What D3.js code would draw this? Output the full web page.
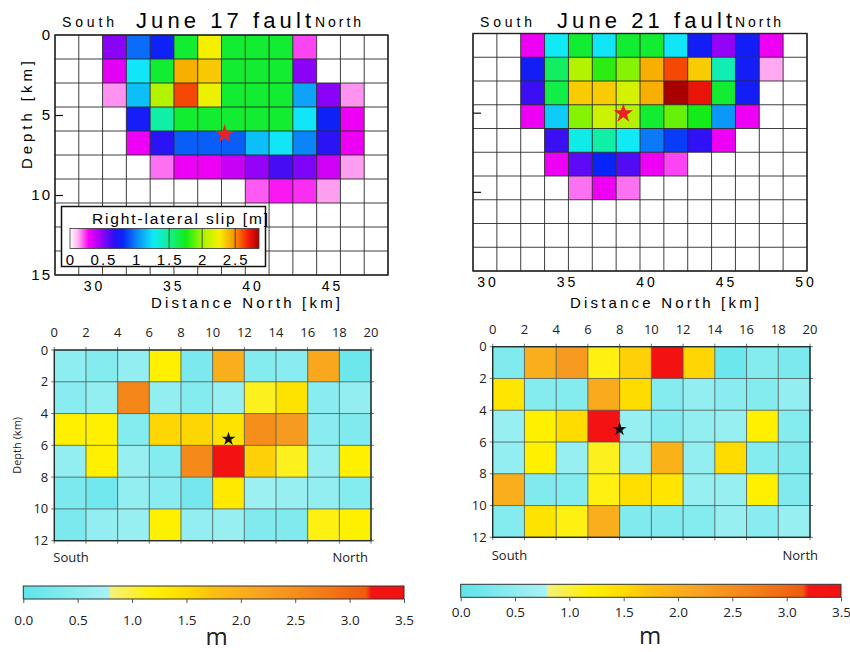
<!DOCTYPE html>
<html>
<head>
<meta charset="utf-8">
<script src="https://cdn.jsdelivr.net/npm/d3@7"></script>
<style>
	body { margin: 0; background: #fff; }
	svg { display: block; }
</style>
</head>
<body>
<svg width="850" height="652"></svg>
<script>

// ---- data -------------------------------------------------------------

// June 17 slip model, rows = 1.5 km depth slices, cols = 1.5 km along strike
var june17Slip = [
	[0, 0, 0.50, 0.95, 0.78, 1.70, 2.25, 1.70, 1.70, 1.70, 0.22, 0, 0, 0],
	[0, 0, 0.32, 1.25, 1.70, 2.42, 2.36, 1.70, 1.70, 1.70, 0.50, 0, 0, 0],
	[0, 0, 0.15, 1.15, 2.05, 2.62, 2.22, 1.70, 1.70, 1.70, 1.08, 0.50, 0.15, 0],
	[0, 0, 0, 0.75, 1.45, 1.70, 1.70, 1.70, 1.70, 1.70, 1.25, 0.78, 0.30, 0],
	[0, 0, 0, 0.30, 0.68, 0.92, 0.92, 0.92, 1.15, 1.25, 1.00, 0.68, 0.30, 0],
	[0, 0, 0, 0, 0.18, 0.30, 0.30, 0.38, 0.48, 0.62, 0.52, 0.36, 0.14, 0],
	[0, 0, 0, 0, 0, 0, 0, 0, 0.20, 0.26, 0.24, 0.14, 0, 0],
	[0, 0, 0, 0, 0, 0, 0, 0, 0, 0, 0, 0, 0, 0],
	[0, 0, 0, 0, 0, 0, 0, 0, 0, 0, 0, 0, 0, 0],
	[0, 0, 0, 0, 0, 0, 0, 0, 0, 0, 0, 0, 0, 0]
];

// June 21 slip model
var june21Slip = [
	[0, 0, 0.30, 1.27, 1.70, 1.25, 1.70, 1.70, 1.25, 0.76, 0.48, 0.76, 0.30, 0],
	[0, 0, 0.76, 1.60, 2.05, 1.80, 1.95, 2.42, 2.62, 2.35, 1.42, 0.76, 0.13, 0],
	[0, 0, 0.64, 1.65, 2.35, 2.35, 2.15, 2.42, 2.87, 2.72, 1.70, 0.76, 0, 0],
	[0, 0, 0.30, 1.18, 1.95, 2.12, 2.05, 1.70, 1.90, 1.75, 1.05, 0.30, 0, 0],
	[0, 0, 0, 0.64, 1.30, 1.45, 1.27, 0.98, 0.85, 0.66, 0.30, 0, 0, 0],
	[0, 0, 0, 0.30, 0.58, 0.80, 0.60, 0.30, 0.22, 0, 0, 0, 0, 0],
	[0, 0, 0, 0, 0.18, 0.30, 0.18, 0, 0, 0, 0, 0, 0, 0],
	[0, 0, 0, 0, 0, 0, 0, 0, 0, 0, 0, 0, 0, 0],
	[0, 0, 0, 0, 0, 0, 0, 0, 0, 0, 0, 0, 0, 0],
	[0, 0, 0, 0, 0, 0, 0, 0, 0, 0, 0, 0, 0, 0]
];

// coarse 2 km x 2 km models (bottom row)
var coarse17Slip = [
	[0.50, 0.40, 0.55, 1.20, 0.30, 2.00, 0.40, 0.45, 2.10, 0.15],
	[0.45, 0.55, 2.60, 0.55, 0.40, 0.60, 1.10, 1.40, 0.45, 0.55],
	[1.20, 1.20, 0.40, 1.55, 1.55, 1.40, 2.50, 2.30, 0.45, 0.35],
	[0.55, 1.20, 0.60, 0.40, 2.55, 3.40, 1.60, 1.10, 0.60, 1.20],
	[0.30, 0.20, 0.55, 0.45, 0.25, 1.30, 0.65, 0.60, 0.55, 0.40],
	[0.30, 0.55, 0.60, 1.20, 0.55, 0.60, 0.35, 0.35, 1.15, 1.20]
];

var coarse21Slip = [
	[0.35, 2.00, 2.30, 1.15, 1.60, 3.40, 1.55, 0.15, 0.40, 0.30],
	[1.35, 0.40, 0.40, 2.05, 1.50, 0.40, 0.55, 0.45, 0.40, 0.55],
	[0.60, 1.20, 1.50, 3.35, 0.60, 0.40, 0.55, 0.60, 1.20, 0.40],
	[0.55, 1.20, 0.60, 1.10, 0.60, 1.95, 0.55, 1.50, 0.40, 0.35],
	[2.00, 0.35, 0.40, 1.15, 1.45, 1.35, 0.60, 0.60, 1.20, 0.35],
	[0.40, 1.40, 1.15, 2.00, 0.35, 0.35, 0.40, 0.60, 0.45, 0.60]
];

// hypocentres [km along strike, depth km]
var hypo17 = [38.3, 6.2];
var hypo21 = [38.6, 5.05];
var coarseHypo17 = [11.0, 5.6];
var coarseHypo21 = [8.0, 5.2];

// tick labels
var depthTicks = [0, 5, 10, 15];
var june17DistTicks = [30, 35, 40, 45];
var june21DistTicks = [30, 35, 40, 45, 50];
var rainbowTicks = [0, 0.5, 1, 1.5, 2, 2.5];
var rainbowLines = [1.5, 2, 2.5];
var coarseKmTicks = [0, 2, 4, 6, 8, 10, 12, 14, 16, 18, 20];
var coarseDepthTicks = [0, 2, 4, 6, 8, 10, 12];
var meterTicks = [0, 0.5, 1, 1.5, 2, 2.5, 3, 3.5];

// ---- settings ---------------------------------------------------------

var CONF = {
	topCellKm: 1.5,
	topDepthMax: 15,
	coarseCellKm: 2,
	topFont: '"Liberation Sans", Arial, sans-serif',
	lowFont: '"Open Sans", "Noto Sans", sans-serif'
};

// rainbow palette of the top panels
var rainbow = d3.scaleLinear()
	.domain([0, 0.12, 0.28, 0.46, 0.66, 0.8, 1.0, 1.26, 1.5, 1.76, 2.0, 2.26, 2.5, 2.7, 2.87])
	.range(['#ffffff', '#ffb4f0', '#f800f4', '#a000f8', '#3010f4', '#0824f8', '#0a84f8', '#10eaf8',
		'#10f090', '#14ec14', '#a4f400', '#f8f000', '#f89000', '#f41808', '#a80000'])
	.clamp(true);

// cyan / yellow / red palette of the bottom panels
var meterColor = d3.scaleLinear()
	.domain([0, 0.79, 0.8, 1.2, 1.5, 1.75, 2.2, 2.7, 3.15, 3.2, 3.5])
	.range(['#5ee4ea', '#aaf2f4', '#f4f07c', '#fff000', '#ffdc00', '#fbbe12', '#f8a222',
		'#f48018', '#f05a10', '#f41414', '#f41010'])
	.clamp(true);

var svg = d3.select('svg');
var defs = svg.append('defs');

function toCells(rows) {
	var out = [];
	rows.forEach(function(r, j) {
		r.forEach(function(v, i) {
			out.push({row: j, col: i, v: v});
		});
	});
	return out;
}

function addGradient(id, scale, domain) {
	var n = 350;
	defs.append('linearGradient')
		.attr('id', id)
		.attr('x1', '0%').attr('x2', '100%')
		.attr('y1', '0%').attr('y2', '0%')
		.selectAll('stop')
		.data(d3.range(n + 1))
		.enter()
		.append('stop')
			.attr('offset', function(d) { return (100 * d / n) + '%'; })
			.attr('stop-color', function(d) {
				return scale(domain[0] + (domain[1] - domain[0]) * d / n);
			});
}

// spaced-out text with a fixed length
function spacedText(g, txt, x, y, size, len, anchor) {
	return g.append('text')
		.attr('x', x).attr('y', y)
		.attr('text-anchor', anchor || 'start')
		.attr('textLength', len)
		.attr('lengthAdjust', 'spacing')
		.style('font-family', CONF.topFont)
		.style('font-size', size + 'px')
		.text(txt);
}

// ---- top panels (fine rainbow models) ---------------------------------

function drawSlipPanel(p) {
	var x = d3.scaleLinear().domain(p.xDomain).range(p.xRange);
	var y = d3.scaleLinear().domain([0, CONF.topDepthMax]).range(p.yRange);
	var dk = CONF.topCellKm;
	var x0 = p.xDomain[0];
	var nRows = p.slip.length, nCols = p.slip[0].length;
	var g = svg.append('g').attr('class', 'slip-panel');

	g.selectAll('rect.cell')
		.data(toCells(p.slip))
		.enter()
		.append('rect')
			.attr('class', 'cell')
			.attr('x', function(d) { return x(x0 + d.col * dk); })
			.attr('y', function(d) { return y(d.row * dk); })
			.attr('width', function(d) { return x(x0 + (d.col + 1) * dk) - x(x0 + d.col * dk) + 0.3; })
			.attr('height', function(d) { return y((d.row + 1) * dk) - y(d.row * dk) + 0.3; })
			.style('fill', function(d) { return rainbow(d.v); });

	// grid lines on top of the cells
	g.selectAll('line.gv')
		.data(d3.range(nCols + 1))
		.enter()
		.append('line')
			.attr('x1', function(i) { return x(x0 + i * dk); })
			.attr('x2', function(i) { return x(x0 + i * dk); })
			.attr('y1', y(0)).attr('y2', y(nRows * dk))
			.style('stroke', '#2a2a2a').style('stroke-width', 0.9);
	g.selectAll('line.gh')
		.data(d3.range(nRows + 1))
		.enter()
		.append('line')
			.attr('y1', function(i) { return y(i * dk); })
			.attr('y2', function(i) { return y(i * dk); })
			.attr('x1', x(x0)).attr('x2', x(x0 + nCols * dk))
			.style('stroke', '#2a2a2a').style('stroke-width', 0.9);

	g.append('rect')
		.attr('x', p.xRange[0]).attr('y', p.yRange[0])
		.attr('width', p.xRange[1] - p.xRange[0])
		.attr('height', p.yRange[1] - p.yRange[0])
		.style('fill', 'none').style('stroke', '#222').style('stroke-width', 1.4);

	// depth ticks point inward
	var yAxis = d3.axisLeft(y)
		.tickValues(depthTicks.slice(1, 3))
		.tickSize(-8).tickSizeOuter(0)
		.tickFormat('');
	var ya = g.append('g')
		.attr('transform', 'translate(' + p.xRange[0] + ',0)')
		.call(yAxis);
	ya.select('.domain').remove();
	ya.selectAll('line').style('stroke', '#111').style('stroke-width', 1.2);

	if(p.depthLabels) {
		g.selectAll('text.dl')
			.data(depthTicks)
			.enter()
			.append('text')
				.attr('x', p.xRange[0] - 3)
				.attr('y', function(d) { return y(d) + 5; })
				.attr('text-anchor', 'end')
				.style('font-family', CONF.topFont)
				.style('font-size', '15px')
				.style('letter-spacing', '2px')
				.text(function(d) { return d; });

		spacedText(g, 'Depth [km]', 0, 0, 15, 108, 'middle')
			.attr('transform', 'translate(32,' + 115 + ') rotate(-90)');
	}

	// distance labels
	g.selectAll('text.xl')
		.data(p.distTicks)
		.enter()
		.append('text')
			.attr('x', function(d) { return x(d) + 1.5; })
			.attr('y', p.yRange[1] + 16)
			.attr('text-anchor', 'middle')
			.style('font-family', CONF.topFont)
			.style('font-size', '14px')
			.style('letter-spacing', '3px')
			.text(function(d) { return d; });

	spacedText(g, 'Distance North [km]', p.xLabelX, 308, 15, 189, 'start');

	// header
	spacedText(g, 'South', p.southX, 27, 14, 52);
	spacedText(g, p.title, p.titleX, 28, 22, p.titleLen);
	spacedText(g, 'North', p.northX, 27, 14, 46);

	return {x: x, y: y, g: g};
}

var p17 = drawSlipPanel({
	slip: june17Slip,
	xDomain: [27.6, 48.6], xRange: [55, 388], yRange: [35, 275],
	distTicks: june17DistTicks, depthLabels: true,
	title: 'June 17 fault', titleX: 136, titleLen: 175,
	southX: 62, northX: 315, xLabelX: 151
});

var p21 = drawSlipPanel({
	slip: june21Slip,
	xDomain: [29.15, 50.15], xRange: [473, 807], yRange: [33.5, 271],
	distTicks: june21DistTicks, depthLabels: false,
	title: 'June 21 fault', titleX: 557, titleLen: 175,
	southX: 480, northX: 735, xLabelX: 570
});

// inset colour bar of the June 17 panel
var inset = p17.g.append('g').attr('class', 'inset');
inset.append('rect')
	.attr('x', 61.5).attr('y', 206.5)
	.attr('width', 204).attr('height', 60)
	.style('fill', '#fff').style('stroke', '#111').style('stroke-width', 1.5);

addGradient('rainbowGrad', rainbow, [0, 2.86]);
var cbx = d3.scaleLinear().domain([0, 2.86]).range([70, 259]);
inset.append('rect')
	.attr('x', cbx(0)).attr('y', 228.5)
	.attr('width', cbx(2.86) - cbx(0)).attr('height', 20)
	.style('fill', 'url(#rainbowGrad)')
	.style('stroke', '#333').style('stroke-width', 0.8);
inset.selectAll('line.cbl')
	.data(rainbowLines)
	.enter()
	.append('line')
		.attr('x1', cbx).attr('x2', cbx)
		.attr('y1', 228.5).attr('y2', 248.5)
		.style('stroke', '#222').style('stroke-width', 0.8);
inset.selectAll('text.cbt')
	.data(rainbowTicks)
	.enter()
	.append('text')
		.attr('x', function(d) { return cbx(d) + 1; })
		.attr('y', 264.5)
		.attr('text-anchor', 'middle')
		.style('font-family', CONF.topFont)
		.style('font-size', '15px')
		.style('letter-spacing', '2px')
		.text(function(d) { return d; });
spacedText(inset, 'Right-lateral slip [m]', 92, 224, 15.5, 176);

// stars
[[p17, hypo17], [p21, hypo21]].forEach(function(pair) {
	pair[0].g.append('path')
		.attr('d', d3.symbol(d3.symbolStar).size(118)())
		.attr('transform', 'translate(' + pair[0].x(pair[1][0]) + ',' + pair[0].y(pair[1][1]) + ')')
		.style('fill', '#ea2228');
});

// ---- bottom panels (coarse models) ------------------------------------

function drawCoarsePanel(p) {
	var x = d3.scaleLinear().domain([0, 20]).range(p.xRange);
	var y = d3.scaleLinear().domain([0, 12]).range(p.yRange);
	var dk = CONF.coarseCellKm;
	var nRows = p.slip.length, nCols = p.slip[0].length;
	var g = svg.append('g').attr('class', 'coarse-panel');

	g.selectAll('rect.cell')
		.data(toCells(p.slip))
		.enter()
		.append('rect')
			.attr('x', function(d) { return x(d.col * dk); })
			.attr('y', function(d) { return y(d.row * dk); })
			.attr('width', function(d) { return x((d.col + 1) * dk) - x(d.col * dk) + 0.3; })
			.attr('height', function(d) { return y((d.row + 1) * dk) - y(d.row * dk) + 0.3; })
			.style('fill', function(d) { return meterColor(d.v); });

	// grid lines poke out of the frame a little (they act as ticks)
	g.selectAll('line.gv')
		.data(coarseKmTicks)
		.enter()
		.append('line')
			.attr('x1', x).attr('x2', x)
			.attr('y1', y(0) - 3).attr('y2', y(nRows * dk) + 3)
			.style('stroke', '#4a5656').style('stroke-width', 0.8);
	g.selectAll('line.gh')
		.data(coarseDepthTicks)
		.enter()
		.append('line')
			.attr('y1', y).attr('y2', y)
			.attr('x1', x(0) - 3).attr('x2', x(nCols * dk) + 3)
			.style('stroke', '#4a5656').style('stroke-width', 0.8);

	g.append('rect')
		.attr('x', p.xRange[0]).attr('y', p.yRange[0])
		.attr('width', p.xRange[1] - p.xRange[0])
		.attr('height', p.yRange[1] - p.yRange[0])
		.style('fill', 'none').style('stroke', '#1e2a2a').style('stroke-width', 1.3);

	g.selectAll('text.xl')
		.data(coarseKmTicks)
		.enter()
		.append('text')
			.attr('x', x)
			.attr('y', p.topLabelY)
			.attr('text-anchor', 'middle')
			.style('font-family', CONF.lowFont)
			.style('font-size', '13px')
			.style('fill', '#222')
			.text(function(d) { return d; });

	g.selectAll('text.yl')
		.data(coarseDepthTicks)
		.enter()
		.append('text')
			.attr('x', p.xRange[0] - 6)
			.attr('y', function(d) { return y(d) + 4.5; })
			.attr('text-anchor', 'end')
			.style('font-family', CONF.lowFont)
			.style('font-size', '13px')
			.style('fill', '#222')
			.text(function(d) { return d; });

	g.append('text')
		.attr('x', p.xRange[0] - 1).attr('y', p.sideLabelY)
		.style('font-family', CONF.lowFont).style('font-size', '13px')
		.style('fill', '#222')
		.text('South');
	g.append('text')
		.attr('x', p.xRange[1] + p.northShift).attr('y', p.sideLabelY)
		.attr('text-anchor', 'end')
		.style('font-family', CONF.lowFont).style('font-size', '13px')
		.style('fill', '#222')
		.text('North');

	if(p.depthTitle) {
		g.append('text')
			.attr('transform', 'translate(21,' + y(6) + ') rotate(-90)')
			.attr('text-anchor', 'middle')
			.style('font-family', CONF.lowFont)
			.style('font-size', '11px')
			.style('fill', '#222')
			.text('Depth (km)');
	}

	g.append('path')
		.attr('d', d3.symbol(d3.symbolStar).size(60)())
		.attr('transform', 'translate(' + x(p.hypo[0]) + ',' + y(p.hypo[1]) + ')')
		.style('fill', '#111');

	// colour bar under the panel
	var cx = d3.scaleLinear().domain([0, 3.5]).range(p.barRange);
	var bar = g.append('g').attr('transform', 'translate(0,' + p.barY + ')');
	bar.append('rect')
		.attr('x', cx(0)).attr('y', 0)
		.attr('width', cx(3.5) - cx(0)).attr('height', 13)
		.style('fill', 'url(#meterGrad)')
		.style('stroke', '#333').style('stroke-width', 1);
	var ax = bar.append('g')
		.attr('transform', 'translate(0,13)')
		.call(d3.axisBottom(cx)
			.tickValues(meterTicks)
			.tickSize(4).tickSizeOuter(0)
			.tickPadding(p.barPad)
			.tickFormat(d3.format('.1f')));
	ax.select('.domain').remove();
	ax.selectAll('line').style('stroke', '#555');
	ax.selectAll('text')
		.style('font-family', CONF.lowFont)
		.style('font-size', '13.5px')
		.style('fill', '#222');
	bar.append('text')
		.attr('x', p.mX).attr('y', p.mY - p.barY)
		.attr('text-anchor', 'middle')
		.style('font-family', CONF.lowFont)
		.style('font-size', '24px')
		.style('fill', '#222')
		.text('m');
}

addGradient('meterGrad', meterColor, [0, 3.5]);

drawCoarsePanel({
	slip: coarse17Slip, hypo: coarseHypo17,
	xRange: [54.3, 371], yRange: [350, 540.7],
	topLabelY: 336.5, sideLabelY: 561.5, northShift: -3, depthTitle: true,
	barRange: [23.3, 404], barY: 586, barPad: 12,
	mX: 216.5, mY: 645
});

drawCoarsePanel({
	slip: coarse21Slip, hypo: coarseHypo21,
	xRange: [492.7, 810], yRange: [346.7, 537.3],
	topLabelY: 334, sideLabelY: 559.5, northShift: 8, depthTitle: false,
	barRange: [460.7, 841], barY: 584.3, barPad: 6,
	mX: 650, mY: 644
});

</script>
</body>
</html>
